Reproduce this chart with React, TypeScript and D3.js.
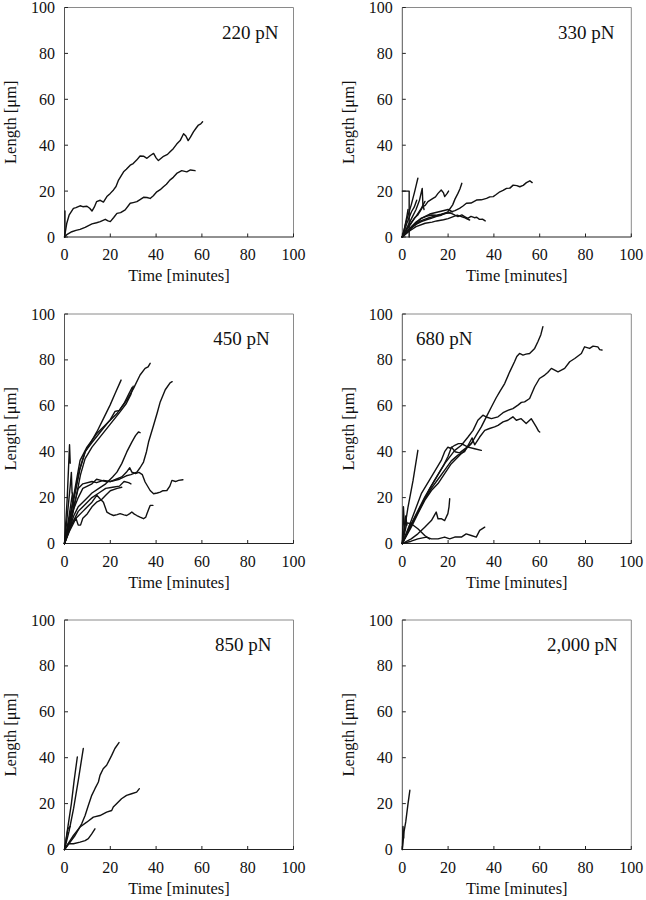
import React from 'react';
import * as d3 from 'd3';

type Pt = [number, number];

const forceLabels = ['220 pN', '330 pN', '450 pN', '680 pN', '850 pN', '2,000 pN'];
const xTicks = [0, 20, 40, 60, 80, 100];
const yTicks = [0, 20, 40, 60, 80, 100];
const xTitle = 'Time [minutes]';
const yTitle = 'Length [μm]';

const traces220: Pt[][] = [
  [[0, 0], [0.5, 3], [1, 6], [2, 9.5], [3.9, 12.5], [5, 12.8], [6.8, 13.6], [8, 13.2], [9.8, 13.4], [11, 12.5], [12, 11.3], [13, 13], [14, 15.4], [15.6, 16], [17, 15.2], [18.5, 17.6], [20, 19], [21.4, 20.5], [22.5, 22], [23.6, 24.8], [25.8, 28.4], [27, 29.5], [28.7, 31.3], [30, 32], [31.5, 33.5], [33, 35.3], [34.5, 35.2], [36, 34.3], [37.5, 35.5], [38.9, 36.4], [40, 34.5], [41, 33.3], [43, 35], [45, 36], [46, 37], [47.5, 38.5], [49, 40.5], [50.5, 42], [52, 45], [53, 44], [54, 42], [55, 43.5], [56.3, 45.8], [57.5, 47.5], [58.5, 48.8], [59.5, 49.3], [60.3, 50.2]],
  [[0, 0], [1, 1], [3.2, 2.3], [5, 2.9], [6.8, 3.3], [9, 4.2], [10.5, 5], [12, 5.7], [14, 6.2], [15.6, 6.7], [17.8, 7.7], [19, 7], [20, 6.7], [21.5, 8.5], [22.9, 10.3], [24.5, 10.6], [26.5, 11.8], [28.7, 14.7], [30, 15], [31.6, 15.4], [33, 16.3], [34.5, 17.3], [36, 17.2], [37.4, 16.8], [38.8, 18], [40.3, 19.7], [41.8, 20.6], [43.2, 21.9], [44.5, 23], [46, 24.8], [47.5, 26], [49, 27.7], [51.2, 28.9], [53.4, 28.4], [55, 29.2], [57, 28.9]],
  [[0.2, 0], [0.2, 11.3]],
];

const traces330: Pt[][] = [
  [[0, 0], [1.7, 6.7], [3.9, 14], [5.4, 19.8], [6.1, 22.7], [6.8, 25.6]],
  [[0, 0], [2, 4], [4, 8], [6, 12], [7.5, 16], [8.7, 21.2], [9, 14], [9.5, 12]],
  [[0, 0], [2, 3.5], [3.9, 6], [5.5, 8.5], [6.8, 9.6], [9, 13.2], [10, 13.8], [11.2, 15.4], [13.4, 16.8], [14.5, 17.5], [15.6, 19], [17, 20.5], [18, 19.2], [18.5, 17.6], [19.6, 19], [20.2, 20]],
  [[0, 0], [2, 2], [3.9, 3.8], [6, 5.5], [8.3, 6.7], [10.5, 7.5], [12.6, 8.1], [15, 9], [17, 9.5], [19.9, 11], [22, 14], [23, 16.5], [24.3, 19], [25.2, 21], [26, 23.4]],
  [[0, 0], [2, 2.5], [5, 5], [8, 7], [12, 8.5], [16, 9.5], [20, 10.5], [23, 11.5], [25, 12.5], [26.5, 13.5], [28, 14.7], [30, 14.8], [32.4, 16.1], [34.5, 16.2], [36.8, 16.8], [38.2, 17.5], [39.7, 17.6], [41, 18.5], [42.6, 19.7], [44, 20.3], [45.5, 21.2], [47, 21.3], [48.4, 22.6], [50, 22.4], [51.3, 21.9], [52.8, 22.5], [54.2, 23.7], [55.7, 24.5], [56.7, 23.7]],
  [[0, 0], [2, 2.5], [3.9, 4.5], [6, 6.5], [8.3, 8.1], [10.5, 9], [12.6, 9.6], [15, 9.5], [17, 9.9], [19, 10.5], [21.4, 10.3], [23, 9.5], [24.3, 8.9], [26, 9.6], [27.2, 8.9], [28.6, 8.1], [30, 9], [31.5, 8.4], [32.5, 8.6], [33.7, 7.7], [35, 7.8], [36.2, 7]],
  [[0, 0], [3, 2.5], [6, 4.5], [10, 6], [13, 6.5], [15, 7], [18, 7.5], [20, 8], [22, 8.8], [24, 9.5], [25.5, 9], [27, 8.5], [28.2, 7.9], [29.4, 7.4]],
  [[0, 20], [3, 20], [3, 0]],
  [[0, 0], [2, 6], [4, 11], [5.2, 13], [6.3, 16]],
  [[0, 0], [3, 5], [6, 9], [8, 12], [9.9, 15.5]],
  [[0, 0], [1, 4], [2, 9], [2.5, 12]],
  [[0, 0], [4, 4], [8, 8], [12, 10], [16, 11], [20, 12], [22, 11]],
];

const traces450: Pt[][] = [
  [[0, 0], [2.5, 12.2], [4.7, 22.4], [6.8, 32.6], [9, 39.9], [11.2, 43.5], [14.1, 48.6], [17, 54.4], [19.9, 60.3], [22.1, 65.4], [24.7, 71.2]],
  [[0, 0], [2.5, 11.5], [4.7, 24.6], [6.8, 36.2], [9.8, 42], [14.1, 47.9], [18.5, 52.3], [22.9, 56.6], [25, 59.5], [27.2, 62.4], [30.1, 67.5], [33, 73.4], [35.2, 76.3], [36.5, 77], [37.4, 78.5]],
  [[0, 0], [2.5, 12], [4.5, 22], [6.5, 32], [9, 40], [12, 44], [16, 49], [20, 54], [22, 57.5], [24, 58], [26, 61], [28, 65], [29.5, 68]],
  [[0, 0], [3, 10], [5, 20], [7, 30], [9, 37], [12, 42], [16, 47], [20, 52], [24, 57], [27, 61], [29, 65], [30, 68.5]],
  [[0, 0], [2, 8], [4, 16], [6, 24], [8, 26], [12, 27], [14, 26.5], [17, 27.5], [20, 27], [24, 28], [27, 29.5], [29, 30], [31.6, 31.1], [33, 33], [34.5, 35.5], [35.8, 40], [36.7, 44.2], [38.9, 51.5], [40.5, 57], [41.8, 61.7], [44, 67], [46.1, 70], [47, 70.5]],
  [[0, 0], [2, 8], [4, 15], [6, 20], [8, 24], [12, 26], [14, 28], [16, 27.5], [18, 27], [20, 27], [22.5, 28], [25, 29], [27, 31], [28.5, 33], [29.4, 31.1], [31, 30.5], [32.5, 31], [34, 30], [35.2, 26.8], [37.4, 23.1], [38.9, 21.7], [40.5, 22], [41.8, 22.4], [43, 23], [44.7, 23.1], [46, 25], [46.9, 27.5], [48.5, 27], [49.8, 27.5], [51.7, 27.8]],
  [[0, 0], [2, 6], [4, 12], [6, 16], [9, 19], [12, 22], [15, 24], [18, 26], [21, 29], [22.9, 31.1], [25, 34.8], [27.2, 39.9], [29.4, 44.2], [31, 47], [32.3, 48.6], [33, 48.3]],
  [[0, 0], [3, 8], [6, 14], [9, 17], [12, 20], [15, 22], [18, 24], [21, 24.5], [24, 25], [26, 27], [28, 26.5], [29, 26]],
  [[0, 0], [2, 6], [4, 10], [6, 12], [8, 14], [10, 16], [12, 18], [14.1, 21], [15.5, 19.5], [17, 18], [18.5, 13.7], [20, 12.8], [21.4, 12.2], [23, 12.6], [24.3, 13], [26, 12.5], [27.2, 12.2], [28.5, 13], [29.4, 13.7], [30.5, 12.8], [31.6, 12.2], [33, 11.5], [34.5, 10.8], [35.5, 11.5], [36, 13], [37.4, 16.6], [38.6, 16.6]],
  [[0, 0], [2, 5], [4, 9], [5, 11], [6, 8], [7, 8], [8, 11], [10, 13], [12, 16], [14, 18], [16, 19], [18, 21], [20, 23], [23, 24], [25, 24.5]],
  [[0, 0], [1.2, 20], [2.2, 43], [2.5, 35]],
  [[0, 0], [1.5, 15], [2.5, 25], [3, 31], [3.3, 22]],
  [[0, 0], [2, 12], [3.5, 22], [4, 16]],
];

const traces680: Pt[][] = [
  [[0, 0], [3.9, 7.1], [6.8, 13], [9.8, 18.8], [12.7, 23.1], [15.6, 26.1], [18.5, 30.4], [21.4, 34.8], [24.3, 37.7], [27.2, 40.6], [30.1, 43.5], [32.3, 47.2], [34.5, 50.8], [36.7, 55.2], [38.9, 59.5], [41, 63.5], [42.5, 66.1], [44.7, 69.7], [46.9, 74.8], [49, 79.2], [50, 81.5], [51.2, 82.8], [52.7, 82.1], [54, 82.5], [55.6, 82.8], [57.8, 85], [59.2, 87.9], [60.5, 91], [61.4, 94.5]],
  [[0, 0], [5.4, 11.5], [9.8, 20.2], [14.1, 27.5], [18.5, 34.8], [22.9, 40.6], [25.8, 42.8], [28.7, 46.4], [30.9, 49.3], [33, 53.7], [35.2, 55.9], [37, 55], [38.9, 54.4], [41.8, 55.2], [44, 57], [46.1, 58], [48.3, 58.8], [50.5, 60.3], [52, 61.5], [53.4, 61.7], [55.6, 63.2], [57.8, 68.3], [59.9, 71.9], [62.2, 73.4], [63.5, 74.5], [65.1, 76.3], [68, 74.8], [70.9, 76.3], [73.1, 79.2], [75.3, 80.6], [78.2, 82.8], [79.6, 85.7], [81.8, 85], [83.3, 86], [85.4, 85.7], [86.2, 84.5], [87.2, 84.3]],
  [[0, 0], [3.9, 8], [6.8, 13.5], [9.8, 19.5], [12.7, 24], [15.6, 28], [18.5, 32], [21.4, 36], [24.3, 38.5], [27.2, 40], [29.4, 44], [30.5, 46], [31.6, 43], [33.8, 46.4], [36, 49.3], [38.1, 50.1], [40.3, 50.8], [41.8, 51.5], [44, 53], [46.1, 53.7], [48.3, 55.2], [49.8, 53.7], [51.9, 54.4], [54.1, 52.3], [56.3, 54.4], [58.5, 50.8], [59.5, 49], [60, 48.6]],
  [[0, 0], [3.9, 10], [8.3, 21.7], [12.7, 29], [17, 36.2], [18.5, 40], [19.9, 42], [21, 41.5], [22.9, 42.8], [24.5, 43.5], [25.8, 43.5], [28.7, 42], [31.6, 41.3], [34.5, 40.6]],
  [[0, 0], [3, 7], [6, 12], [9, 18], [12, 24], [15, 29], [18, 34], [20, 38], [21.5, 42], [23, 40], [25, 39.5], [27, 41], [29, 42.5], [30.5, 44]],
  [[0, 0], [2.5, 15.9], [4.7, 27.5], [6.8, 40.6]],
  [[0, 0], [3.9, 2], [6.8, 4.2], [9.8, 7.1], [12.7, 10], [14.8, 13.7], [15.6, 10.8], [17, 10.8], [18.5, 10], [19.9, 13], [20.4, 16], [20.7, 19.5]],
  [[0, 0], [3.9, 1], [6.8, 2], [10.5, 2.8], [12.7, 2], [15.6, 2], [18.5, 2.8], [20.7, 2], [22.9, 2.8], [25.8, 2.8], [27.9, 4.2], [30.1, 3.5], [32.3, 2.8], [33.8, 5.7], [36, 7.1]],
  [[0, 0], [2, 9], [3.9, 8.6], [6.8, 6.4], [9.8, 3.5], [11.9, 2]],
  [[0, 0], [0.5, 16], [1, 6]],
  [[0, 0], [1.5, 12], [2, 8]],
];

const traces850: Pt[][] = [
  [[0, 0], [1.5, 10], [3, 20], [4.2, 30], [5.6, 40.3]],
  [[0, 0], [2, 8], [4, 18], [6, 30], [8.2, 44]],
  [[0, 0], [4.6, 6.1], [7.5, 11.2], [9, 14.8], [10.4, 19.2], [11.9, 23.6], [13.3, 26.5], [14.8, 29.4], [15.5, 32.3], [16.9, 35.2], [18.4, 36.7], [20.6, 41], [22, 44], [23.8, 46.6]],
  [[0, 0], [3.9, 6.1], [6.8, 9.8], [9.7, 11.9], [12.6, 14.1], [15.5, 14.8], [18.4, 16.3], [20.6, 17], [21.3, 18.5], [23.5, 20.7], [24.9, 22.1], [27.1, 23.6], [29.3, 24.3], [31.5, 25], [32.7, 26.5]],
  [[0, 0], [1.7, 2.5], [3.9, 2.5], [6.8, 3.2], [9, 3.9], [10.4, 4.7], [11.9, 6.8], [13.3, 9]],
  [[0, 0], [1.5, 9], [2.5, 10]],
];

const traces2000: Pt[][] = [
  [[0, 0], [0.8, 8], [1.5, 12], [2.5, 20], [3.3, 25.8]],
  [[0, 0], [0.3, 10], [0.6, 5]],
];

const allTraces = [traces220, traces330, traces450, traces680, traces850, traces2000];
// label anchor (data units) for each panel
const labelAt: Pt[] = [[68.8, 86.3], [68, 86.3], [65, 86.3], [6, 86.3], [65.7, 86.3], [63.2, 86.3]];

const colLeft = [64.5, 402.3];
const rowTop = [7.5, 314, 620];
const PW = 229;
const PH = 229.5;
const FONT = 'Liberation Serif';

function Panel({ idx }: { idx: number }) {
  const left = colLeft[idx % 2];
  const top = rowTop[Math.floor(idx / 2)];
  const x = d3.scaleLinear().domain([0, 100]).range([left, left + PW]);
  const y = d3.scaleLinear().domain([0, 100]).range([top + PH, top]);
  const line = d3.line<Pt>().x(d => x(d[0])).y(d => y(d[1]));
  const traces = allTraces[idx];
  const [lx, ly] = labelAt[idx];
  return (
    <g>
      <line x1={x(0)} x2={x(100)} y1={y(100)} y2={y(100)} stroke="#8a8a8a" strokeWidth={1} />
      <line x1={x(100)} x2={x(100)} y1={y(0)} y2={y(100)} stroke="#8a8a8a" strokeWidth={1} />
      <line x1={x(0)} x2={x(0)} y1={y(0)} y2={y(100)} stroke="#555" strokeWidth={1} />
      <line x1={x(0)} x2={x(100)} y1={y(0)} y2={y(0)} stroke="#222" strokeWidth={1} />
      {xTicks.map(t => (
        <g key={'x' + t}>
          <line x1={x(t)} x2={x(t)} y1={y(0)} y2={y(0) - 3.5} stroke="#222" strokeWidth={1} />
          <text x={x(t)} y={y(0) + 23} textAnchor="middle" fontSize={16} style={{ fontFamily: FONT }} fill="#111">{t}</text>
        </g>
      ))}
      {yTicks.map(t => (
        <g key={'y' + t}>
          <line x1={x(0)} x2={x(0) + 3.5} y1={y(t)} y2={y(t)} stroke="#222" strokeWidth={1} />
          <text x={x(0) - 9.5} y={y(t) + 5.5} textAnchor="end" fontSize={16} style={{ fontFamily: FONT }} fill="#111">{t}</text>
        </g>
      ))}
      <text x={x(50)} y={y(0) + 44} textAnchor="middle" fontSize={16.5} style={{ fontFamily: FONT }} fill="#111">{xTitle}</text>
      <text transform={`translate(${x(0) - 48.5},${y(50)}) rotate(-90)`} textAnchor="middle" fontSize={16.5} style={{ fontFamily: FONT }} fill="#111">{yTitle}</text>
      <text x={x(lx)} y={y(ly)} fontSize={19} style={{ fontFamily: FONT }} fill="#111">{forceLabels[idx]}</text>
      {traces.map((tr, i) => (
        <path key={i} d={line(tr) || ''} fill="none" stroke="#111" strokeWidth={1.4} strokeLinejoin="round" strokeLinecap="round" />
      ))}
    </g>
  );
}

export default function App() {
  return (
    <svg width={646} height={900} style={{ position: 'absolute', left: 0, top: 0, background: '#fff' }}>
      <rect x={0} y={0} width={646} height={900} fill="#fff" />
      {forceLabels.map((_, i) => <Panel key={i} idx={i} />)}
    </svg>
  );
}
